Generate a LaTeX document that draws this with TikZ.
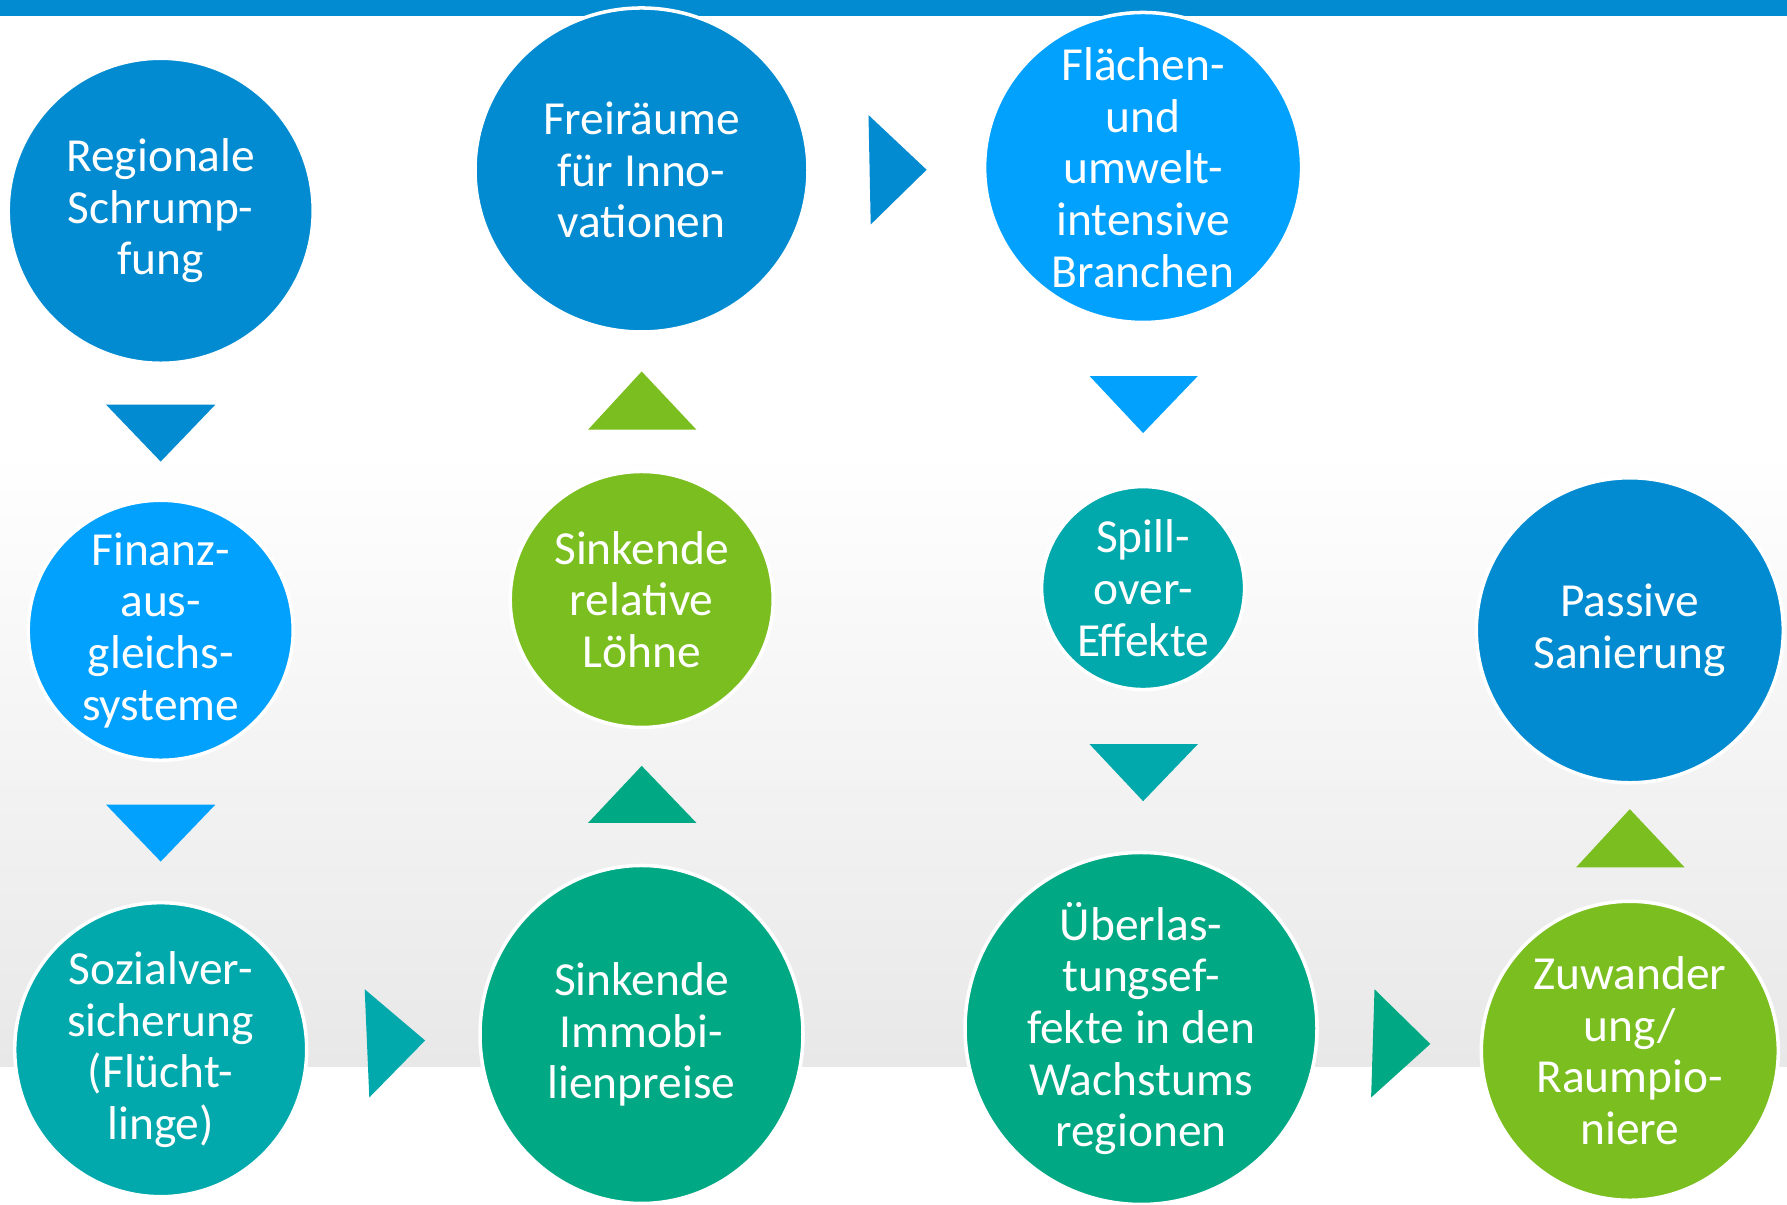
\documentclass[tikz,border=0pt]{standalone}
\usepackage{fontspec}
\setmainfont{Carlito}
\usetikzlibrary{positioning,shapes.geometric}

\definecolor{darkblue}{RGB}{2,139,209}
\definecolor{lightblue}{RGB}{2,161,254}
\definecolor{teal}{RGB}{1,169,172}
\definecolor{seagreen}{RGB}{0,169,132}
\definecolor{leafgreen}{RGB}{123,190,31}
\definecolor{bggray}{RGB}{232,232,232}

\tikzset{
  bubble/.style={ellipse,draw=white,line width=1pt,inner sep=0pt},
  bubbletext/.style={text=white,align=center,inner sep=0pt,font=\fontsize{13.5}{14.7}\selectfont},
}

\begin{document}
\begin{tikzpicture}
\clip (0,0) rectangle (17.87,12.05);
\fill[white] (0,0) rectangle (17.87,12.05);
\shade[top color=white,bottom color=bggray] (0,1.38) rectangle (17.87,7.55);
\fill[darkblue] (0,11.89) rectangle (17.87,12.05);

% first column
\node[bubble,fill=darkblue,minimum width=3.05cm,minimum height=3.05cm,
  label={[bubbletext]center:{Regionale\\Schrump-\\fung}}] (schrumpfung) at (1.607,9.942) {};
\node[bubble,fill=lightblue,minimum width=2.65cm,minimum height=2.6cm,
  label={[bubbletext]center:{Finanz-\\aus-\\gleichs-\\systeme}}] (finanz) at (1.607,5.747) {};
\node[bubble,fill=teal,minimum width=2.92cm,minimum height=2.94cm,
  label={[bubbletext]center:{Sozialver-\\sicherung\\(Flücht-\\linge)}}] (sozial) at (1.607,1.553) {};

% second column
\node[bubble,fill=seagreen,minimum width=3.23cm,minimum height=3.38cm,
  label={[bubbletext]center:{Sinkende\\Immobi-\\lienpreise}}] (immobilien) at (6.415,1.705) {};
\node[bubble,fill=leafgreen,minimum width=2.63cm,minimum height=2.56cm,
  label={[bubbletext]center:{Sinkende\\relative\\Löhne}}] (loehne) at (6.417,6.055) {};
\node[bubble,fill=darkblue,minimum width=3.33cm,minimum height=3.24cm,
  label={[bubbletext]center:{Freiräume\\für Inno-\\vationen}}] (freiraeume) at (6.415,10.35) {};

% third column
\node[bubble,fill=lightblue,minimum width=3.17cm,minimum height=3.1cm,
  label={[bubbletext]center:{Flächen-\\und\\umwelt-\\intensive\\Branchen}}] (flaechen) at (11.431,10.375) {};
\node[bubble,fill=teal,minimum width=2.03cm,minimum height=2.03cm,
  label={[bubbletext]center:{Spill-\\over-\\Effekte}}] (spillover) at (11.431,6.169) {};
\node[bubble,fill=seagreen,minimum width=3.52cm,minimum height=3.52cm,
  label={[bubbletext]center:{Überlas-\\tungsef-\\fekte in den\\Wachstums\\regionen}}] (ueberlastung) at (11.41,1.765) {};

% fourth column
\node[bubble,fill=darkblue,minimum width=3.07cm,minimum height=3.05cm,
  label={[bubbletext]center:{Passive\\Sanierung}}] (sanierung) at (16.298,5.747) {};
\node[bubble,fill=leafgreen,minimum width=2.97cm,minimum height=2.99cm,
  label={[bubbletext]center:{Zuwander\\ung/\\Raumpio-\\niere}}] (zuwanderung) at (16.298,1.542) {};

% triangles
\fill[darkblue] (1.06,8.004) -- (2.154,8.004) -- (1.607,7.434) -- cycle;
\fill[lightblue] (1.06,4.004) -- (2.154,4.004) -- (1.607,3.434) -- cycle;
\fill[teal] (3.647,2.157) -- (4.251,1.645) -- (3.693,1.075) -- cycle;
\fill[seagreen] (5.881,3.821) -- (6.964,3.821) -- (6.417,4.391) -- cycle;
\fill[leafgreen] (5.881,7.753) -- (6.964,7.753) -- (6.417,8.335) -- cycle;
\fill[darkblue] (8.685,10.899) -- (9.266,10.352) -- (8.707,9.805) -- cycle;
\fill[lightblue] (10.896,8.289) -- (11.978,8.289) -- (11.431,7.719) -- cycle;
\fill[teal] (10.896,4.608) -- (11.978,4.608) -- (11.431,4.038) -- cycle;
\fill[seagreen] (13.745,2.157) -- (14.303,1.61) -- (13.711,1.075) -- cycle;
\fill[leafgreen] (15.762,3.377) -- (16.845,3.377) -- (16.298,3.958) -- cycle;
\end{tikzpicture}
\end{document}
